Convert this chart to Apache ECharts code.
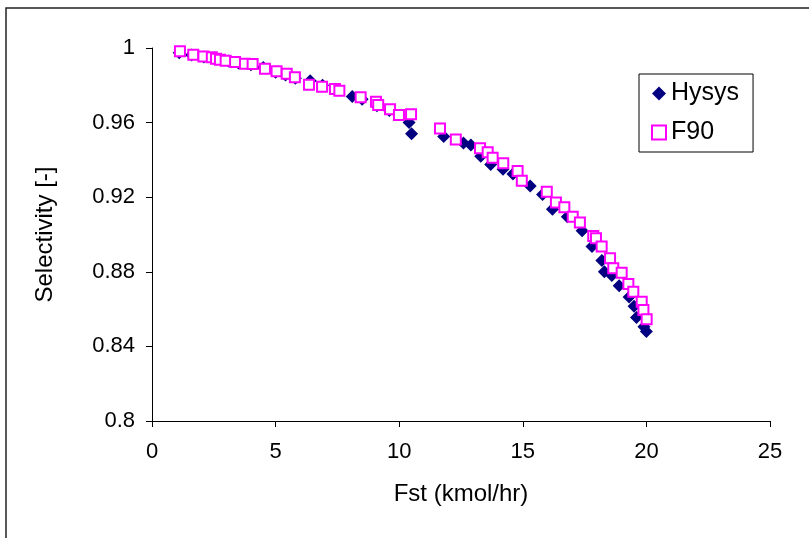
<!DOCTYPE html>
<html>
<head>
<meta charset="utf-8">
<script src="https://cdn.jsdelivr.net/npm/echarts@6/dist/echarts.min.js"></script>
<style>
  html, body { margin: 0; padding: 0; background: #fff; }
  #chart { width: 809px; height: 538px; }
</style>
</head>
<body>
<div id="chart"></div>
<script>
// Fst (kmol/hr), selectivity pairs
var hysys = [
  [1.1, 0.9975], [1.6, 0.9962], [2.1, 0.9952], [2.5, 0.9945], [2.8, 0.9938],
  [3.1, 0.9930], [3.5, 0.9920], [4.0, 0.9910], [4.5, 0.9895], [5.0, 0.9870],
  [5.4, 0.9855], [5.8, 0.9838], [6.4, 0.9825], [6.9, 0.9800], [7.5, 0.9775],
  [8.1, 0.9740], [8.5, 0.9725], [9.1, 0.9690], [9.6, 0.9665], [10.4, 0.9600],
  [10.5, 0.9540], [11.8, 0.9525], [12.6, 0.9490], [12.9, 0.9480], [13.3, 0.9420],
  [13.7, 0.9375], [14.2, 0.9350], [14.6, 0.9325], [15.3, 0.9260], [15.8, 0.9215],
  [16.2, 0.9135], [16.8, 0.9095], [17.4, 0.9020], [17.8, 0.8935], [18.2, 0.8860],
  [18.3, 0.8800], [18.6, 0.8780], [18.9, 0.8725], [19.3, 0.8665], [19.5, 0.8615],
  [19.6, 0.8555], [19.9, 0.8505], [20.0, 0.8480]
];
var f90 = [
  [1.13, 0.9982], [1.67, 0.9964], [2.08, 0.9955], [2.42, 0.9950], [2.59, 0.9943],
  [2.75, 0.9937], [2.98, 0.9932], [3.36, 0.9925], [3.76, 0.9916], [4.07, 0.9914],
  [4.57, 0.9889], [5.04, 0.9875], [5.45, 0.9862], [5.78, 0.9843], [6.35, 0.9803],
  [6.88, 0.9792], [7.40, 0.9780], [7.58, 0.9771], [8.44, 0.9736], [9.06, 0.9712],
  [9.15, 0.9694], [9.63, 0.9671], [9.99, 0.9641], [10.48, 0.9645], [11.65, 0.9569],
  [12.29, 0.9510], [13.27, 0.9462], [13.58, 0.9441], [13.78, 0.9412], [14.21, 0.9382],
  [14.79, 0.9340], [14.96, 0.9288], [15.97, 0.9229], [16.34, 0.9171], [16.68, 0.9146],
  [17.02, 0.9095], [17.31, 0.9065], [17.85, 0.8992], [17.96, 0.8980], [18.19, 0.8935],
  [18.53, 0.8873], [18.66, 0.8819], [19.00, 0.8795], [19.27, 0.8735], [19.47, 0.8693],
  [19.81, 0.8640], [19.88, 0.8595], [20.01, 0.8545]
];
var seriesNames = ['Hysys', 'F90'];
var xTicks = [0, 5, 10, 15, 20, 25];
var yTicks = [0.8, 0.84, 0.88, 0.92, 0.96, 1];

var chart = echarts.init(document.getElementById('chart'));
var font = 'Liberation Sans, Arial, sans-serif';

var option = {
  backgroundColor: '#fff',
  animation: false,
  graphic: [{
    type: 'rect',
    shape: { x: 6, y: 8, width: 900, height: 600 },
    style: { fill: 'none', stroke: '#222', lineWidth: 1.5 },
    silent: true
  }],
  grid: { left: 152, right: 39, top: 48, bottom: 117 },
  legend: {
    orient: 'vertical',
    left: 639,
    top: 74,
    borderColor: '#000',
    borderWidth: 1,
    padding: [7, 14, 7, 12],
    itemGap: 14,
    itemWidth: 14,
    itemHeight: 14,
    textStyle: { fontFamily: font, fontSize: 25, color: '#000' },
    data: seriesNames
  },
  xAxis: {
    type: 'value',
    min: xTicks[0],
    max: xTicks[xTicks.length - 1],
    interval: 5,
    name: 'Fst (kmol/hr)',
    nameLocation: 'middle',
    nameGap: 61,
    nameTextStyle: { fontFamily: font, fontSize: 24, color: '#000' },
    axisLine: { onZero: false, lineStyle: { color: '#000', width: 1 } },
    axisTick: { show: true, length: 6, lineStyle: { color: '#000' } },
    axisLabel: { fontFamily: font, fontSize: 22, color: '#000', margin: 20 },
    splitLine: { show: false }
  },
  yAxis: {
    type: 'value',
    min: yTicks[0],
    max: yTicks[yTicks.length - 1],
    interval: 0.04,
    name: 'Selectivity [-]',
    nameLocation: 'middle',
    nameGap: 95,
    nameTextStyle: { fontFamily: font, fontSize: 24, color: '#000' },
    axisLine: { show: true, onZero: false, lineStyle: { color: '#000', width: 1 } },
    axisTick: { show: true, length: 6, lineStyle: { color: '#000' } },
    axisLabel: {
      fontFamily: font, fontSize: 22, color: '#000', margin: 17,
      formatter: function (v) { return String(Math.round(v * 100) / 100); }
    },
    splitLine: { show: false }
  },
  series: [
    {
      name: seriesNames[0],
      type: 'scatter',
      symbol: 'diamond',
      symbolSize: 13,
      itemStyle: { color: '#000080', opacity: 1 },
      data: hysys
    },
    {
      name: seriesNames[1],
      type: 'scatter',
      symbol: 'rect',
      symbolSize: 10,
      itemStyle: { color: '#fff', borderColor: '#FF00FF', borderWidth: 2, opacity: 1 },
      data: f90
    }
  ]
};
chart.setOption(option);
</script>
</body>
</html>
